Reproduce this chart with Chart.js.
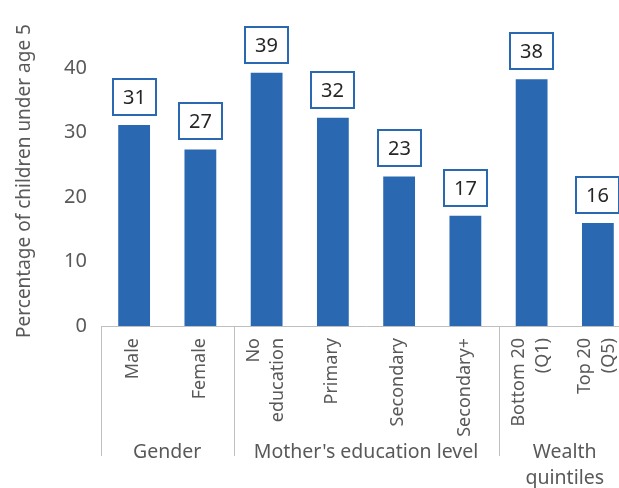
<!DOCTYPE html>
<html>
<head>
<meta charset="utf-8">
<script src="https://cdn.jsdelivr.net/npm/chart.js@4"></script>
<style>
  html, body { margin: 0; padding: 0; background: #fff; overflow: hidden; }
  canvas { display: block; }
</style>
</head>
<body>
<canvas id="chart" width="640" height="488"></canvas>
<script>
// data
const categories = [["Male"], ["Female"], ["No", "education"], ["Primary"], ["Secondary"], ["Secondary+"], ["Bottom 20", "(Q1)"], ["Top 20", "(Q5)"]];
const values = [31.2, 27.4, 39.3, 32.3, 23.2, 17.1, 38.3, 16.0];
const valueLabels = ["31", "27", "39", "32", "23", "17", "38", "16"];
const groupLabels = [["Gender"], ["Mother's education level"], ["Wealth", "quintiles"]];
const groupSizes = [2, 4, 2];
const yTicks = [0, 10, 20, 30, 40];

const FONT = '"Noto Sans", sans-serif';
const barColor = "#2a69b1";
const grey = "#595959";
const lineGrey = "#bfbfbf";

// draws value boxes, rotated category labels, group labels and separators
const annotate = {
  id: "annotate",
  afterDatasetsDraw(chart) {
    const { ctx, chartArea } = chart;
    const x = chart.scales.x;
    const meta = chart.getDatasetMeta(0);
    const half = (x.getPixelForValue(1) - x.getPixelForValue(0)) / 2;
    ctx.save();

    // value label boxes
    ctx.font = "20px " + FONT;
    meta.data.forEach((bar, i) => {
      const txt = valueLabels[i];
      const w = Math.round(ctx.measureText(txt).width + 20);
      const h = 36;
      const left = Math.round(bar.x - w / 2);
      const top = Math.round(bar.y - 10 - h);
      ctx.fillStyle = "#fff";
      ctx.fillRect(left, top, w, h);
      ctx.strokeStyle = barColor;
      ctx.lineWidth = 2;
      ctx.strokeRect(left, top, w, h);
      ctx.fillStyle = "#262626";
      ctx.textAlign = "center";
      ctx.textBaseline = "middle";
      ctx.fillText(txt, left + w / 2, top + h / 2 + 1);
    });

    // category labels, rotated
    ctx.font = "18px " + FONT;
    ctx.fillStyle = grey;
    categories.forEach((lines, i) => {
      const cx = x.getPixelForValue(i);
      const lh = 24;
      lines.forEach((ln, j) => {
        const off = (j - (lines.length - 1) / 2) * lh;
        ctx.save();
        ctx.translate(cx + off - 1, chartArea.bottom + 12);
        ctx.rotate(-Math.PI / 2);
        ctx.textAlign = "right";
        ctx.textBaseline = "middle";
        ctx.fillText(ln, 0, 0);
        ctx.restore();
      });
    });

    // group separators + group labels
    ctx.strokeStyle = lineGrey;
    ctx.lineWidth = 1;
    let start = 0;
    const bounds = [x.getPixelForValue(0) - half];
    groupSizes.forEach(n => {
      start += n;
      bounds.push(x.getPixelForValue(start - 1) + half);
    });
    bounds.forEach(bx => {
      const px = Math.round(bx) + 0.5;
      ctx.beginPath();
      ctx.moveTo(px, chartArea.bottom);
      ctx.lineTo(px, chartArea.bottom + 130);
      ctx.stroke();
    });
    ctx.font = "19.5px " + FONT;
    ctx.fillStyle = grey;
    ctx.textAlign = "center";
    ctx.textBaseline = "alphabetic";
    groupLabels.forEach((lines, g) => {
      const mid = (bounds[g] + bounds[g + 1]) / 2;
      lines.forEach((ln, j) => {
        ctx.fillText(ln, mid, chartArea.bottom + 132 + j * 26);
      });
    });
    ctx.restore();
  }
};

const chart = new Chart(document.getElementById("chart").getContext("2d"), {
  type: "bar",
  data: {
    labels: categories.map(c => c.join(" ")),
    datasets: [{
      data: values,
      backgroundColor: barColor,
      barPercentage: 0.48,
      categoryPercentage: 1.0
    }]
  },
  options: {
    responsive: false,
    animation: false,
    devicePixelRatio: 1,
    layout: { padding: { top: 36, right: 9, left: 0, bottom: 0 } },
    plugins: { legend: { display: false }, tooltip: { enabled: false } },
    scales: {
      x: {
        grid: { display: false, drawTicks: false },
        border: { display: true, color: lineGrey, width: 1 },
        ticks: { display: false },
        afterFit: s => { s.height = 162; }
      },
      y: {
        min: 0,
        max: 45,
        grid: { display: false, drawTicks: false },
        border: { display: false },
        ticks: { stepSize: 10, padding: 14, color: grey, font: { family: FONT, size: 20 } },
        afterBuildTicks: s => { s.ticks = s.ticks.filter(t => yTicks.includes(t.value)); },
        afterFit: s => { s.width = 101; },
        title: {
          display: true,
          text: "Percentage of children under age 5",
          color: grey,
          font: { family: FONT, size: 19 },
          padding: { top: 13, bottom: 0 }
        }
      }
    }
  },
  plugins: [annotate]
});
</script>
</body>
</html>
